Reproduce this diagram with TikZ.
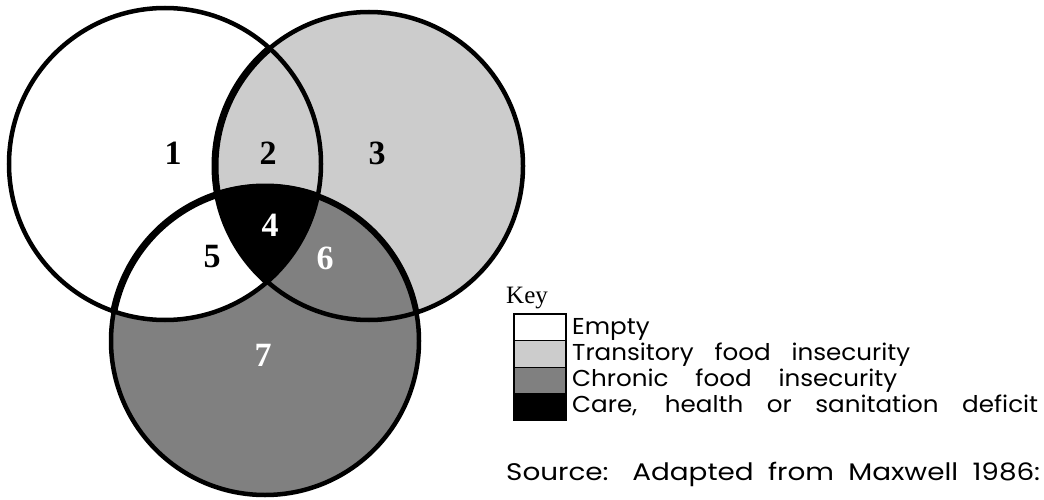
\documentclass[tikz,border=0pt]{standalone}
\usepackage{fontspec}
\setmainfont{Liberation Serif}
\newfontfamily\keyfont[FakeStretch=1.07]{Poppins}
\newfontfamily\srcfont[FakeStretch=1.16]{Poppins}
\definecolor{lightdot}{gray}{0.80}
\definecolor{darkdot}{gray}{0.50}
\tikzset{
  outline/.style={line width=4.5pt, draw=black},
  heavy/.style={line width=7pt, draw=black},
  num/.style={font=\fontsize{34}{34}\selectfont\bfseries, inner sep=0pt},
  numw/.style={num, text=white},
  keybox/.style={draw=black, line width=1pt, minimum width=52pt, minimum height=26.5pt, inner sep=0pt, outer sep=0pt},
  keytext/.style={font=\keyfont\fontsize{23}{23}\selectfont, anchor=base west, inner sep=0pt},
  srctext/.style={font=\srcfont\fontsize{24}{24}\selectfont, anchor=base west, inner sep=0pt},
  keytitle/.style={font=\fontsize{25}{25}\selectfont, anchor=base west, inner sep=0pt}
}
\begin{document}
\begin{tikzpicture}[x=1pt,y=-1pt]
\useasboundingbox (0,0) rectangle (1044,500);
\coordinate (c1) at (165,164);
\coordinate (c3) at (369,166);
\coordinate (c7) at (265,341);
% fills
\fill[lightdot] (c3) circle[radius=154pt];
\fill[darkdot] (c7) circle[radius=154pt];
\begin{scope}
  \clip (c1) circle[radius=156pt];
  \fill[white] (c7) circle[radius=154pt];
  \clip (c3) circle[radius=154pt];
  \fill[black] (c7) circle[radius=154pt];
\end{scope}
% outlines
\draw[outline] (c1) circle[radius=156pt];
\draw[outline] (c3) circle[radius=154pt];
\draw[outline] (c7) circle[radius=154pt];
\begin{scope}
  \clip (c1) circle[radius=156pt];
  \draw[heavy] (c3) circle[radius=154pt];
  \draw[heavy] (c7) circle[radius=154pt];
\end{scope}
\begin{scope}
  \clip (c3) circle[radius=154pt];
  \draw[line width=6pt] (c7) circle[radius=154pt];
\end{scope}
% region labels
\node[num]  (n1) at (173,153) {1};
\node[num]  (n2) at (268,153) {2};
\node[num]  (n3) at (377,153) {3};
\node[numw] (n4) at (270,225) {4};
\node[num]  (n5) at (212,257) {5};
\node[numw] (n6) at (325,258) {6};
\node[numw] (n7) at (263,355) {7};
% key
\node[keytitle] (key) at (506,303) {Key};
\node[keybox, fill=white]    (b1) at (540,327.25) {};
\node[keybox, fill=lightdot] (b2) at (540,353.75) {};
\node[keybox, fill=darkdot]  (b3) at (540,380.25) {};
\node[keybox, fill=black]    (b4) at (540,406.75) {};
\draw[line width=2pt] (b1.north west) rectangle (b4.south east);
\node[keytext] (t1) at (572,334) {Empty};
\node[keytext] (t2) at (572,360) {\makebox[338pt][s]{Transitory food insecurity}};
\node[keytext] (t3) at (572,386) {\makebox[325pt][s]{Chronic food insecurity}};
\node[keytext] (t4) at (572,412) {\makebox[466pt][s]{Care, health or sanitation deficit}};
\node[srctext] (src) at (506,480) {\makebox[534pt][s]{Source: Adapted from Maxwell 1986:}};
\end{tikzpicture}
\end{document}
